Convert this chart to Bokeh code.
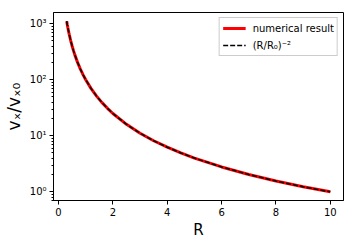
from bokeh.plotting import figure
from bokeh.models import Range1d, CustomJSTickFormatter, LogTicker, FixedTicker, Legend, LegendItem
from bokeh.embed import file_html
from bokeh.resources import INLINE

R = [0.3, 0.32, 0.34, 0.36, 0.38, 0.4, 0.45, 0.5, 0.55, 0.6, 0.7, 0.8, 0.9, 1.0,
     1.2, 1.4, 1.6, 1.8, 2.0, 2.5, 3.0, 3.5, 4.0, 4.5, 5.0, 6.0, 7.0, 8.0, 9.0, 10.0]
numerical = [1111, 976.6, 865.1, 771.6, 692.5, 625, 493.8, 400, 330.6, 277.8, 204.1,
             156.3, 123.5, 100, 69.4, 51.0, 39.1, 30.9, 25, 16, 11.1, 8.16, 6.25,
             4.94, 4.0, 2.78, 2.04, 1.56, 1.23, 1.0]
analytic = [1111, 976.6, 865.1, 771.6, 692.5, 625, 493.8, 400, 330.6, 277.8, 204.1,
            156.3, 123.5, 100, 69.4, 51.0, 39.1, 30.9, 25, 16, 11.1, 8.16, 6.25,
            4.94, 4.0, 2.78, 2.04, 1.56, 1.23, 1.0]
x_ticks = [0, 2, 4, 6, 8, 10]
y_ticks = [1, 10, 100, 1000]

FONT = "DejaVu Sans"

p = figure(frame_width=290, frame_height=188, y_axis_type="log",
           x_range=Range1d(-0.185, 10.485), y_range=Range1d(0.70, 1585),
           output_backend="svg", toolbar_location=None,
           min_border_left=10, min_border_right=6, min_border_top=12, min_border_bottom=4)
p.background_fill_color = "white"
p.border_fill_color = "white"
p.outline_line_color = "black"
p.outline_line_width = 1
p.xgrid.visible = False
p.ygrid.visible = False

l1 = p.line(R, numerical, line_color="red", line_width=3)
l2 = p.line(R, analytic, line_color="black", line_width=1.5, line_dash="5 2")

legend = Legend(items=[LegendItem(label="numerical result", renderers=[l1]),
                       LegendItem(label="(R/R₀)⁻²", renderers=[l2])],
                location="top_right")
legend.label_text_font = FONT
legend.label_text_font_size = "10px"
legend.label_text_color = "black"
legend.label_height = 14
legend.label_standoff = 7
legend.glyph_height = 14
legend.glyph_width = 23
legend.spacing = 3
legend.padding = 3
legend.margin = 5
legend.border_line_color = "#cccccc"
legend.border_line_alpha = 1
legend.background_fill_alpha = 0.8
p.add_layout(legend)

p.xaxis.ticker = FixedTicker(ticks=x_ticks, minor_ticks=[])
p.yaxis.ticker = LogTicker(num_minor_ticks=10)
p.yaxis.formatter = CustomJSTickFormatter(code="""
const sup = {'-':'⁻','0':'⁰','1':'¹','2':'²','3':'³','4':'⁴','5':'⁵','6':'⁶','7':'⁷','8':'⁸','9':'⁹'};
const e = Math.round(Math.log10(tick));
return '10' + String(e).split('').map(c => sup[c]).join('');
""")

for ax in (p.xaxis, p.yaxis):
    ax.axis_line_color = "black"
    ax.major_tick_line_color = "black"
    ax.minor_tick_line_color = "black"
    ax.major_tick_out = 4
    ax.major_tick_in = 0
    ax.minor_tick_out = 2
    ax.minor_tick_in = 0
    ax.major_label_text_font = FONT
    ax.major_label_text_font_size = "10px"
    ax.major_label_text_color = "black"
    ax.major_label_standoff = 3
    ax.axis_label_text_font = FONT
    ax.axis_label_text_font_style = "normal"
    ax.axis_label_text_color = "black"

p.xaxis.axis_label = "R"
p.xaxis.axis_label_text_font_size = "15px"
p.xaxis.axis_label_standoff = 2
p.yaxis.axis_label = "vₓ/vₓ₀"
p.yaxis.axis_label_text_font_size = "17px"
p.yaxis.axis_label_standoff = 3

open("out.html", "w").write(file_html(p, INLINE))
